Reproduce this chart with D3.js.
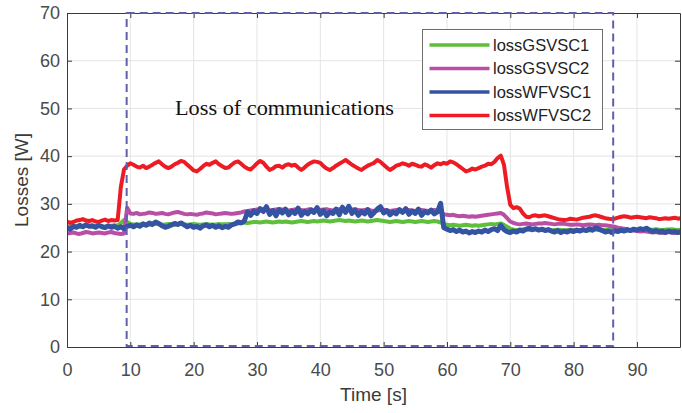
<!DOCTYPE html>
<html>
<head>
<meta charset="utf-8">
<script src="https://cdn.jsdelivr.net/npm/d3@7"></script>
<style>
  body { margin: 0; background: #fff; }
  svg { display: block; font-family: "Liberation Sans", Arial, sans-serif; }
</style>
</head>
<body>
<svg id="chart"></svg>
<script>
const width = 682
const height = 413

// time base of the samples (s)
const time = d3.range(0, 97.01, 0.5)

// series values, one sample every 0.5 s (W)
const lossGSVSC1 = [
  25.2, 25.3, 25.4, 25.3, 25.2, 25.3, 25.4, 25.3, 25.2, 25.3,
  25.4, 25.3, 25.2, 25.3, 25.4, 25.5, 25.4, 26.0, 26.6, 26.2,
  25.8, 25.7, 25.6, 25.7, 25.8, 25.7, 25.6, 25.7, 25.8, 25.7,
  25.6, 25.7, 25.8, 25.7, 25.6, 25.7, 25.8, 25.7, 25.6, 25.7,
  25.8, 25.7, 25.6, 25.7, 25.8, 25.7, 25.6, 25.7, 25.8, 25.7,
  25.7, 25.8, 25.7, 25.8, 25.9, 26.0, 26.1, 26.0, 26.1, 26.2,
  26.2, 26.1, 26.2, 26.3, 26.2, 26.1, 26.2, 26.3, 26.2, 26.3,
  26.2, 26.1, 26.2, 26.3, 26.4, 26.3, 26.2, 26.3, 26.4, 26.3,
  26.4, 26.5, 26.4, 26.3, 26.4, 26.5, 26.6, 26.5, 26.4, 26.5,
  26.4, 26.3, 26.4, 26.5, 26.4, 26.3, 26.4, 26.5, 26.6, 26.5,
  26.4, 26.3, 26.2, 26.3, 26.4, 26.3, 26.2, 26.3, 26.4, 26.3,
  26.2, 26.3, 26.4, 26.3, 26.2, 26.3, 26.4, 26.3, 26.1, 25.8,
  25.6, 25.5, 25.6, 25.5, 25.4, 25.5, 25.6, 25.5, 25.4, 25.5,
  25.4, 25.5, 25.6, 25.7, 25.8, 25.7, 25.8, 25.9, 25.6, 25.2,
  24.8, 24.6, 24.5, 24.6, 24.7, 24.6, 24.5, 24.6, 24.7, 24.6,
  24.5, 24.6, 24.5, 24.4, 24.5, 24.6, 24.5, 24.4, 24.5, 24.6,
  24.5, 24.4, 24.5, 24.6, 24.5, 24.4, 24.5, 24.6, 24.5, 24.4,
  24.5, 24.6, 24.5, 24.4, 24.5, 24.6, 24.5, 24.4, 24.5, 24.6,
  24.5, 24.6, 24.7, 24.6, 24.5, 24.6, 24.7, 24.6, 24.5, 24.6,
  24.6, 24.7, 24.6, 24.5, 24.6
]

const lossGSVSC2 = [
  23.8, 23.9, 24.0, 23.8, 23.7, 23.9, 24.1, 24.0, 23.8, 23.9,
  24.0, 23.9, 23.8, 24.0, 24.1, 23.9, 23.8, 23.7, 23.8, 29.2,
  28.0, 27.9, 28.1, 27.8, 27.9, 28.0, 28.2, 28.1, 27.9, 28.0,
  28.1, 27.9, 27.8, 28.0, 28.2, 28.3, 28.1, 27.9, 27.8, 27.9,
  27.8, 27.7, 27.9, 28.0, 28.2, 28.1, 28.0, 27.8, 27.9, 28.0,
  28.1, 28.0, 27.9, 28.0, 28.1, 28.2, 28.4, 28.5, 28.6, 28.7,
  28.8, 28.9, 28.8, 28.7, 28.6, 28.7, 28.8, 28.9, 28.8, 28.7,
  28.6, 28.7, 28.8, 28.9, 28.7, 28.6, 28.8, 28.9, 28.7, 28.6,
  28.7, 28.8, 28.9, 28.7, 28.6, 28.8, 28.9, 28.7, 28.6, 28.7,
  28.8, 28.9, 28.7, 28.6, 28.7, 28.8, 28.6, 28.5, 28.6, 28.7,
  28.8, 28.6, 28.5, 28.6, 28.7, 28.6, 28.5, 28.6, 28.7, 28.6,
  28.5, 28.6, 28.7, 28.6, 28.5, 28.6, 28.7, 28.6, 28.4, 27.8,
  27.7, 27.6, 27.7, 27.5, 27.4, 27.5, 27.4, 27.3, 27.4, 27.3,
  27.4, 27.5, 27.6, 27.7, 27.8, 27.9, 28.0, 28.1, 27.7, 27.0,
  26.3, 26.0, 25.8, 25.7, 25.8, 25.9, 25.8, 25.7, 25.8, 25.9,
  25.9, 26.0, 25.9, 25.8, 25.7, 25.8, 25.9, 25.8, 25.7, 25.6,
  25.6, 25.7, 25.6, 25.5, 25.6, 25.7, 25.6, 25.5, 25.6, 25.5,
  25.5, 25.4, 25.3, 25.2, 25.0, 24.9, 24.8, 24.6, 24.5, 24.4,
  24.3, 24.2, 24.3, 24.2, 24.1, 24.0, 24.1, 24.0, 23.9, 24.0,
  24.1, 24.0, 23.9, 24.0, 24.1
]

const lossWFVSC1 = [
  25.0, 24.7, 25.3, 25.1, 25.5, 25.2, 25.6, 25.3, 25.4, 25.1,
  25.5, 25.2, 25.0, 25.4, 25.1, 25.3, 24.9, 25.2, 24.8, 25.3,
  25.5, 25.2, 25.6, 25.3, 25.8, 25.5, 26.0, 25.7, 26.2, 25.9,
  25.4, 25.1, 25.3, 25.6, 25.9, 25.7, 26.0, 25.6, 25.2, 25.5,
  25.1, 25.3, 24.9, 25.4, 25.6, 25.2, 25.5, 25.1, 25.4, 25.0,
  25.3, 25.1, 25.6, 25.8, 26.2, 26.0, 26.4, 28.3, 27.6, 28.5,
  28.0, 29.0, 28.4, 29.4, 27.8, 28.6, 27.5, 28.8, 28.1, 28.9,
  27.7, 28.5, 28.0, 29.1, 27.6, 28.4, 27.9, 28.7, 28.2, 29.2,
  27.8, 28.6, 27.5, 28.3, 28.0, 28.9, 27.7, 29.3, 28.2, 29.5,
  28.0, 28.7, 27.6, 28.4, 27.9, 28.8, 27.5, 28.2, 28.9, 29.4,
  28.1, 28.6, 27.7, 28.3, 27.9, 28.8, 28.2, 29.0, 27.8, 28.5,
  28.0, 28.9, 27.6, 28.4, 28.1, 28.7, 27.9, 28.3, 30.1, 25.0,
  24.7, 24.4, 24.6, 24.2, 24.5, 24.1, 24.3, 23.9, 24.2, 24.0,
  24.3, 24.1, 24.5, 24.2, 24.6, 24.8, 24.4, 25.5, 24.6, 24.2,
  24.0, 24.3, 24.1, 24.5, 24.3, 24.7, 24.9, 24.6, 24.8, 24.5,
  24.7, 24.4, 24.6, 24.3, 24.1, 24.4, 24.0, 24.3, 24.1, 24.4,
  24.2, 24.5, 24.3, 24.6, 24.4, 24.8, 24.5, 25.0, 24.7, 24.4,
  24.1, 24.3, 24.0, 24.4, 24.2, 24.5, 24.3, 24.6, 24.4, 24.7,
  24.5, 24.8, 24.6, 24.9, 24.5, 24.2, 24.4, 24.1, 24.3, 24.0,
  24.3, 24.1, 24.2, 24.0, 24.2
]

const lossWFVSC2 = [
  26.3, 26.0, 26.2, 26.5, 26.6, 26.8, 26.5, 26.4, 26.6, 26.3,
  26.2, 26.5, 26.7, 26.4, 26.6, 26.5, 26.6, 33.5, 37.2, 38.0,
  38.5, 38.2, 37.8, 37.6, 38.0, 37.5, 37.8, 38.2, 38.6, 38.9,
  38.3, 37.8, 37.5, 37.8, 38.3, 38.6, 39.0, 38.8, 38.2, 37.6,
  37.0, 36.8, 37.3, 37.9, 38.4, 38.2, 38.6, 38.9, 38.3, 37.9,
  37.5, 37.6, 38.2, 38.7, 38.9, 38.4, 37.8, 37.4, 37.2, 37.8,
  38.5, 39.0, 38.6, 37.8, 37.1, 37.4, 37.9, 38.0, 37.6, 38.1,
  38.3, 38.0, 38.2, 37.6, 37.1, 37.6, 38.2, 38.6, 38.9, 38.8,
  38.6, 37.9, 37.4, 37.1, 37.5, 38.0, 38.4, 38.8, 39.2, 38.7,
  38.2, 37.8, 37.4, 37.1, 37.6, 38.0, 38.3, 38.6, 39.2, 38.8,
  38.2, 37.6, 37.1, 37.5, 38.0, 38.2, 38.5, 38.3, 38.0, 38.4,
  38.2, 37.9, 37.8, 38.3, 38.0, 37.6, 38.1, 38.5, 38.3, 38.6,
  38.4, 38.9, 38.7, 38.3, 37.8, 37.3, 36.8, 37.0, 37.4, 37.2,
  37.5, 37.8, 38.0, 38.4, 38.3, 38.8, 39.6, 40.1, 38.2, 33.5,
  29.8, 29.1, 29.3, 29.0, 28.0, 27.3, 27.2, 27.5, 27.6, 27.4,
  27.5, 27.6, 27.4, 27.2, 27.0, 26.8, 26.7, 26.6, 26.7, 26.9,
  26.8, 26.7, 26.9, 27.1, 27.2, 27.3, 27.5, 27.6, 27.4, 27.2,
  27.0, 26.9, 26.8, 26.9, 27.1, 27.3, 27.4, 27.3, 27.1, 27.2,
  27.3, 27.2, 27.1, 27.0, 27.2, 27.1, 27.0, 26.8, 26.9, 27.0,
  26.9, 27.0, 27.1, 26.9, 27.0
]

const seriesNames = ['lossGSVSC1', 'lossGSVSC2', 'lossWFVSC1', 'lossWFVSC2']
const seriesValues = [lossGSVSC1, lossGSVSC2, lossWFVSC1, lossWFVSC2]
const seriesColors = ['#5fbf3c', '#b94fa4', '#3553a3', '#ed1c24']

const xTicks = [0, 10, 20, 30, 40, 50, 60, 70, 80, 90]
const yTicks = [0, 10, 20, 30, 40, 50, 60, 70]

// loss of communications window (s)
const commWindow = [9.42, 86.25]
const commLabel = 'Loss of communications'

const margin = {top: 13, right: 2, bottom: 66, left: 67}

const svg = d3.select('#chart')
  .attr('width', width)
  .attr('height', height)

const x = d3.scaleLinear()
  .domain([0, 96.8])
  .range([margin.left, width - margin.right])

const y = d3.scaleLinear()
  .domain([0, 70])
  .range([height - margin.bottom, margin.top])

svg.append('clipPath').attr('id', 'plot')
  .append('rect')
  .attr('x', x(0)).attr('y', y(70))
  .attr('width', x.range()[1] - x(0)).attr('height', y(0) - y(70))

// grid
svg.append('g')
  .selectAll('line')
  .data(xTicks.slice(1))
  .join('line')
  .attr('x1', d => x(d)).attr('x2', d => x(d))
  .attr('y1', y(0)).attr('y2', y(70))
  .attr('stroke', '#e4e4e4')
  .attr('stroke-width', 1)

svg.append('g')
  .selectAll('line')
  .data(yTicks.slice(1, -1))
  .join('line')
  .attr('x1', x(0)).attr('x2', x.range()[1])
  .attr('y1', d => y(d)).attr('y2', d => y(d))
  .attr('stroke', '#e4e4e4')
  .attr('stroke-width', 1)

// data lines
const line = d3.line()
  .x((d, i) => x(time[i]))
  .y(d => y(d))

svg.append('g')
  .attr('clip-path', 'url(#plot)')
  .selectAll('path')
  .data(seriesValues)
  .join('path')
  .attr('d', line)
  .attr('fill', 'none')
  .attr('stroke', (d, i) => seriesColors[i])
  .attr('stroke-width', (d, i) => i == 2 ? 5 : 4)
  .attr('stroke-linejoin', 'round')

// axes (ticks pointing inward like matlab)
const axisColor = '#3a3a3a'
const tickLen = 5

svg.append('g')
  .attr('transform', `translate(0,${y(0)})`)
  .call(d3.axisBottom(x).tickValues(xTicks).tickSizeInner(-tickLen).tickSizeOuter(0).tickPadding(16))
svg.append('g')
  .attr('transform', `translate(0,${y(70)})`)
  .call(d3.axisTop(x).tickValues(xTicks).tickSizeInner(-tickLen).tickSizeOuter(0).tickFormat(''))
svg.append('g')
  .attr('transform', `translate(${x(0)},0)`)
  .call(d3.axisLeft(y).tickValues(yTicks).tickSizeInner(-tickLen).tickSizeOuter(0).tickPadding(7))
svg.append('g')
  .attr('transform', `translate(${x.range()[1]},0)`)
  .call(d3.axisRight(y).tickValues(yTicks).tickSizeInner(-tickLen).tickSizeOuter(0).tickFormat(''))

svg.selectAll('.domain, .tick line')
  .attr('stroke', axisColor)
  .attr('stroke-width', 1)

svg.selectAll('.tick text')
  .attr('fill', '#4a4a4a')
  .style('font-size', '18px')
  .style('font-family', '"Liberation Sans", Arial, sans-serif')

// dashed window
svg.append('rect')
  .attr('x', x(commWindow[0]))
  .attr('y', y(70))
  .attr('width', x(commWindow[1]) - x(commWindow[0]))
  .attr('height', y(0) - y(70) - 1)
  .attr('fill', 'none')
  .attr('stroke', '#5f5fae')
  .attr('stroke-width', 2)
  .attr('stroke-dasharray', '8,5')

svg.append('text')
  .attr('x', 175)
  .attr('y', 115)
  .attr('font-family', '"Liberation Serif", "Times New Roman", serif')
  .attr('font-size', 21)
  .attr('textLength', 219)
  .attr('lengthAdjust', 'spacingAndGlyphs')
  .attr('fill', '#111')
  .text(commLabel)

// axis labels
svg.append('text')
  .attr('x', (x(0) + x.range()[1]) / 2)
  .attr('y', 401)
  .attr('text-anchor', 'middle')
  .attr('font-size', 19)
  .attr('fill', '#3a3a3a')
  .text('Time [s]')

svg.append('text')
  .attr('transform', `translate(28,${(y(0) + y(70)) / 2}) rotate(-90)`)
  .attr('text-anchor', 'middle')
  .attr('font-size', 19)
  .attr('fill', '#3a3a3a')
  .text('Losses [W]')

// legend
const legend = svg.append('g')
  .attr('transform', 'translate(422.5,29.5)')

legend.append('rect')
  .attr('width', 180)
  .attr('height', 100)
  .attr('fill', '#fff')
  .attr('stroke', '#6e6e6e')
  .attr('stroke-width', 1)

const items = legend.selectAll('g')
  .data(seriesNames)
  .join('g')
  .attr('transform', (d, i) => `translate(0,${15.5 + i * 23.5})`)

items.append('line')
  .attr('x1', 7).attr('x2', 67)
  .attr('stroke', (d, i) => seriesColors[i])
  .attr('stroke-width', 3.5)

items.append('text')
  .attr('x', 70.5)
  .attr('dy', '0.36em')
  .attr('font-size', 16.5)
  .attr('fill', '#222')
  .text(d => d)
</script>
</body>
</html>
